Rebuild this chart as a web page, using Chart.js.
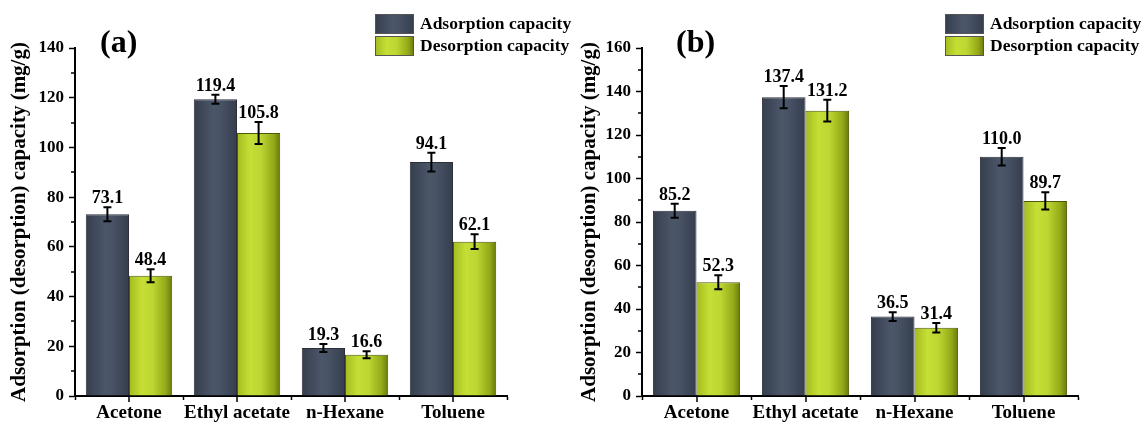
<!DOCTYPE html>
<html>
<head>
<meta charset="utf-8">
<script src="https://cdn.jsdelivr.net/npm/chart.js@4"></script>
<style>
  body { margin: 0; background: #fff; }
  #wrap { position: relative; width: 1146px; height: 426px; }
  #wrap div { position: absolute; top: 0; height: 426px; }
</style>
</head>
<body>
<div id="wrap">
  <div style="left:0;width:575px"><canvas id="chartA"></canvas></div>
  <div style="left:575px;width:571px"><canvas id="chartB"></canvas></div>
</div>
<script>
const categories = ["Acetone", "Ethyl acetate", "n-Hexane", "Toluene"];
const seriesNames = ["Adsorption capacity", "Desorption capacity"];

// panel (a)
const adsorptionA = [73.1, 119.4, 19.3, 94.1];
const desorptionA = [48.4, 105.8, 16.6, 62.1];
const adsorptionErrA = [2.8, 1.8, 1.6, 3.8];
const desorptionErrA = [2.6, 4.4, 1.4, 3.0];
const yMaxA = 140;

// panel (b)
const adsorptionB = [85.2, 137.4, 36.5, 110.0];
const desorptionB = [52.3, 131.2, 31.4, 89.7];
const adsorptionErrB = [3.2, 5.1, 2.0, 4.0];
const desorptionErrB = [3.2, 5.0, 2.2, 4.0];
const yMaxB = 160;

const yStep = 20;

const SERIF = '"Liberation Serif", "Times New Roman", serif';
const blueStops = [[0, '#363e4d'], [0.45, '#4b5669'], [0.6, '#485366'], [1, '#363e4d']];
const greenStops = [[0, '#a4bb1e'], [0.3, '#c6df36'], [0.55, '#bdd631'], [0.85, '#94a918'], [1, '#6a780c']];

function barFill(stops, mid) {
  return ctx => {
    const chart = ctx.chart;
    const x = chart.scales.x;
    if (ctx.type !== 'data' || !x || !chart.chartArea) return mid;
    const w = x.width / categories.length * 0.8 / 2;
    const left = x.getPixelForValue(ctx.dataIndex) - w + ctx.datasetIndex * w;
    const g = chart.ctx.createLinearGradient(left, 0, left + w, 0);
    stops.forEach(s => g.addColorStop(s[0], s[1]));
    return g;
  };
}

function gradientBox(c, stops, x, y, w, h) {
  const g = c.createLinearGradient(x, 0, x + w, 0);
  stops.forEach(s => g.addColorStop(s[0], s[1]));
  c.fillStyle = g;
  c.fillRect(x, y, w, h);
  c.strokeStyle = '#555';
  c.lineWidth = 1;
  c.strokeRect(x + 0.5, y + 0.5, w - 1, h - 1);
}

// error bars, value labels, minor ticks, legend, panel letter
const extras = {
  id: 'extras',
  afterDatasetsDraw(chart, args, opts) {
    const c = chart.ctx;
    const y = chart.scales.y, x = chart.scales.x;
    c.save();
    c.strokeStyle = '#000';
    c.fillStyle = '#000';
    c.lineWidth = 2;
    chart.data.datasets.forEach((ds, di) => {
      chart.getDatasetMeta(di).data.forEach((bar, i) => {
        const v = ds.data[i], e = ds.errors[i];
        const top = y.getPixelForValue(v + e), bot = y.getPixelForValue(v - e);
        c.beginPath();
        c.moveTo(bar.x, top); c.lineTo(bar.x, bot);
        c.moveTo(bar.x - 4, top); c.lineTo(bar.x + 4, top);
        c.moveTo(bar.x - 4, bot); c.lineTo(bar.x + 4, bot);
        c.stroke();
        c.font = 'bold 18px ' + SERIF;
        c.textAlign = 'center';
        c.textBaseline = 'alphabetic';
        c.fillText(v.toFixed(1), bar.x, top - 4);
      });
    });

    // minor y ticks
    c.lineWidth = 1.5;
    c.beginPath();
    for (let v = yStep / 2; v < y.max; v += yStep) {
      const py = Math.round(y.getPixelForValue(v));
      c.moveTo(x.left, py); c.lineTo(x.left - 4, py);
    }
    // category centre ticks
    for (let i = 0; i < categories.length; i++) {
      const px = Math.round(x.getPixelForValue(i));
      c.moveTo(px, y.bottom); c.lineTo(px, y.bottom + 6);
    }
    c.stroke();

    // legend
    const lx = opts.legendX;
    seriesNames.forEach((name, k) => {
      const by = 14 + k * 22;
      gradientBox(c, k === 0 ? blueStops : greenStops, lx, by, 39, 20);
      c.fillStyle = '#000';
      c.font = 'bold 17.5px ' + SERIF;
      c.textAlign = 'left';
      c.textBaseline = 'middle';
      c.fillText(name, lx + 45, by + 10);
    });

    // panel letter
    c.font = 'bold 32px ' + SERIF;
    c.textAlign = 'left';
    c.textBaseline = 'alphabetic';
    c.fillText(opts.letter, opts.letterX, 52);
    c.restore();
  }
};

function makeChart(id, ads, des, adsErr, desErr, yMax, layout) {
  return new Chart(document.getElementById(id), {
    type: 'bar',
    data: {
      labels: categories,
      datasets: [
        { label: seriesNames[0], data: ads, errors: adsErr,
          backgroundColor: barFill(blueStops, '#454f61'), borderColor: '#2a2f38', borderWidth: 1 },
        { label: seriesNames[1], data: des, errors: desErr,
          backgroundColor: barFill(greenStops, '#bcd630'), borderColor: '#4e5a08', borderWidth: 1 }
      ]
    },
    options: {
      responsive: true,
      maintainAspectRatio: false,
      animation: false,
      layout: { padding: { left: 0, top: 48, right: layout.right, bottom: 0 } },
      datasets: { bar: { categoryPercentage: 0.8, barPercentage: 1.0 } },
      plugins: {
        legend: { display: false },
        tooltip: { enabled: false },
        extras: { legendX: layout.legendX, letter: layout.letter, letterX: layout.letterX }
      },
      scales: {
        x: {
          afterFit: s => { s.height = 30; },
          border: { display: true, color: '#000', width: 2 },
          grid: { display: true, drawOnChartArea: false, offset: true, tickLength: 4, tickColor: '#000', tickWidth: 1.5 },
          ticks: { color: '#000', padding: 2, autoSkip: false, font: { family: SERIF, size: 19, weight: 'bold' }, maxRotation: 0 }
        },
        y: {
          min: 0,
          max: yMax,
          afterFit: s => { s.width = layout.left; },
          border: { display: true, color: '#000', width: 2 },
          grid: { display: true, drawOnChartArea: false, tickLength: 6, tickColor: '#000', tickWidth: 1.5 },
          ticks: { stepSize: yStep, color: '#000', padding: 5, font: { family: SERIF, size: 17, weight: 'bold' } },
          title: {
            display: true,
            text: 'Adsorption (desorption) capacity (mg/g)',
            color: '#000',
            font: { family: SERIF, size: 21, weight: 'bold' },
            padding: { top: layout.titlePad, bottom: 0 }
          }
        }
      }
    },
    plugins: [extras]
  });
}

makeChart('chartA', adsorptionA, desorptionA, adsorptionErrA, desorptionErrA, yMaxA,
  { left: 75, right: 68, legendX: 375, letter: '(a)', letterX: 100, titlePad: 7 });
makeChart('chartB', adsorptionB, desorptionB, adsorptionErrB, desorptionErrB, yMaxB,
  { left: 67, right: 68, legendX: 370, letter: '(b)', letterX: 101, titlePad: 2 });
</script>
</body>
</html>
